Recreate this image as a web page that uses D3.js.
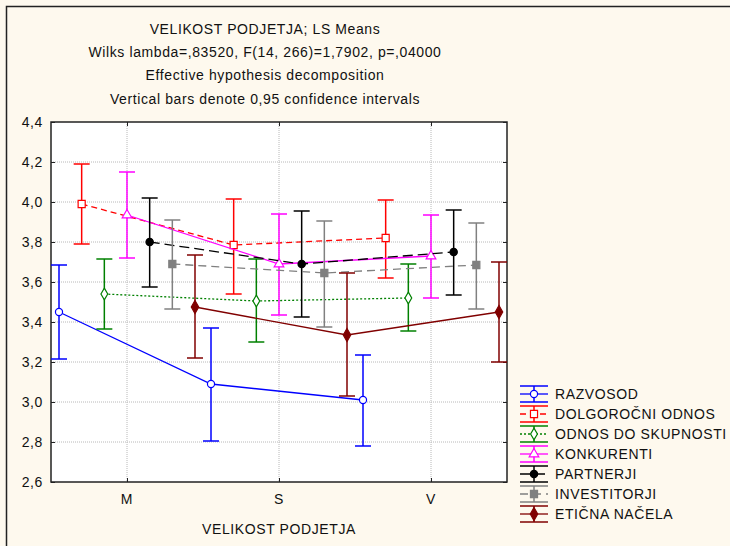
<!DOCTYPE html>
<html>
  <head>
    <meta charset="utf-8">
    <script src="https://d3js.org/d3.v7.min.js"></script>
    <style>
      body {
          margin: 0;
          background: #fef9ee;
          font-family: "Liberation Sans", Arial, sans-serif;
      }
      .title, .tick-label, .axis-title, .legend {
          font-size: 14px;
          letter-spacing: 0.6px;
          fill: #111;
      }
      .grid {
          stroke: #b8b8b8;
          stroke-width: 1;
          stroke-dasharray: 1,1;
      }
    </style>
  </head>
  <body>
    <svg width="730" height="546"></svg>
    <script>

    // ---- data ----
    var categories = ["M", "S", "V"];
    var seriesNames = ["RAZVOSOD", "DOLGOROČNI ODNOS", "ODNOS DO SKUPNOSTI", "KONKURENTI",
                       "PARTNERJI", "INVESTITORJI", "ETIČNA NAČELA"];
    var means = [
      [3.45, 3.09, 3.01],
      [3.99, 3.785, 3.82],
      [3.54, 3.505, 3.52],
      [3.935, 3.69, 3.73],
      [3.80, 3.69, 3.75],
      [3.69, 3.645, 3.685],
      [3.475, 3.335, 3.45]
    ];
    var lower = [
      [3.215, 2.805, 2.78],
      [3.79, 3.54, 3.62],
      [3.365, 3.30, 3.355],
      [3.72, 3.435, 3.52],
      [3.575, 3.425, 3.535],
      [3.465, 3.375, 3.465],
      [3.22, 3.03, 3.20]
    ];
    var upper = [
      [3.685, 3.37, 3.235],
      [4.19, 4.015, 4.01],
      [3.715, 3.715, 3.69],
      [4.15, 3.94, 3.935],
      [4.02, 3.955, 3.96],
      [3.91, 3.905, 3.895],
      [3.735, 3.645, 3.70]
    ];
    var yTicks = [2.6, 2.8, 3.0, 3.2, 3.4, 3.6, 3.8, 4.0, 4.2, 4.4];
    var titleLines = ["VELIKOST PODJETJA; LS Means",
                      "Wilks lambda=,83520, F(14, 266)=1,7902, p=,04000",
                      "Effective hypothesis decomposition",
                      "Vertical bars denote 0,95 confidence intervals"];

    // ---- styles ----
    var colors = ["#0000ff", "#ff0000", "#008000", "#ff00ff", "#000000", "#808080", "#800000"];
    var dashes = [null, "6,4", "2,2", null, "10,5", "8,5", null];
    var symbols = [d3.symbolCircle, d3.symbolSquare, d3.symbolDiamond, d3.symbolTriangle,
                   d3.symbolCircle, d3.symbolSquare, d3.symbolDiamond];
    var filled = [false, false, false, false, true, true, true];
    var symSize = [40, 50, 40, 40, 42, 50, 48];

    var svg = d3.select("svg"),
        plot = {left: 51, right: 507, top: 122, bottom: 482};

    var x = d3.scalePoint().domain(categories).range([plot.left, plot.right]).padding(0.5),
        off = d3.scalePoint().domain(seriesNames).range([-68, 68]),
        y = d3.scaleLinear().domain([2.6, 4.4]).range([plot.bottom, plot.top]);

    var fmt = function(v) { return d3.format(".1f")(v).replace(".", ","); };

    // outer frame
    svg.append("path")
       .attr("d", "M6.5,546V6.5H730")
       .attr("fill", "none")
       .attr("stroke", "#222")
       .attr("stroke-width", 1.5);

    // titles
    svg.selectAll(".title")
       .data(titleLines)
       .enter().append("text")
       .attr("class", "title")
       .attr("x", 265)
       .attr("y", function(d, i) { return 34 + i * 23.2; })
       .attr("text-anchor", "middle")
       .text(function(d) { return d; });

    // plot background
    svg.append("rect")
       .attr("x", plot.left).attr("y", plot.top)
       .attr("width", plot.right - plot.left).attr("height", plot.bottom - plot.top)
       .attr("fill", "#fff");

    // gridlines
    svg.selectAll(".hgrid")
       .data(yTicks.slice(1, -1))
       .enter().append("line")
       .attr("class", "grid")
       .attr("x1", plot.left).attr("x2", plot.right)
       .attr("y1", function(d) { return y(d); }).attr("y2", function(d) { return y(d); });

    svg.selectAll(".vgrid")
       .data(categories)
       .enter().append("line")
       .attr("class", "grid")
       .attr("y1", plot.top).attr("y2", plot.bottom)
       .attr("x1", function(d) { return x(d); }).attr("x2", function(d) { return x(d); });

    // axes (ticks pointing inside)
    svg.append("g")
       .attr("transform", "translate(" + plot.left + ",0)")
       .call(d3.axisRight(y).tickValues(yTicks).tickSize(4).tickFormat(""));
    svg.append("g")
       .attr("transform", "translate(" + plot.right + ",0)")
       .call(d3.axisLeft(y).tickValues(yTicks).tickSize(4).tickFormat(""));
    svg.append("g")
       .attr("transform", "translate(0," + plot.bottom + ")")
       .call(d3.axisTop(x).tickSize(4).tickFormat(""));
    svg.append("g")
       .attr("transform", "translate(0," + plot.top + ")")
       .call(d3.axisBottom(x).tickSize(4).tickFormat(""));
    svg.selectAll(".domain").remove();
    svg.selectAll(".tick line").attr("stroke", "#222");

    svg.append("rect")
       .attr("x", plot.left).attr("y", plot.top)
       .attr("width", plot.right - plot.left).attr("height", plot.bottom - plot.top)
       .attr("fill", "none")
       .attr("stroke", "#222")
       .attr("stroke-width", 1.5);

    // tick labels
    svg.selectAll(".ylab")
       .data(yTicks)
       .enter().append("text")
       .attr("class", "tick-label")
       .attr("x", 43)
       .attr("y", function(d) { return y(d); })
       .attr("dy", "0.35em")
       .attr("text-anchor", "end")
       .text(fmt);

    svg.selectAll(".xlab")
       .data(categories)
       .enter().append("text")
       .attr("class", "tick-label")
       .attr("x", function(d) { return x(d); })
       .attr("y", 504)
       .attr("text-anchor", "middle")
       .text(function(d) { return d; });

    svg.append("text")
       .attr("class", "axis-title")
       .attr("x", (plot.left + plot.right) / 2)
       .attr("y", 534)
       .attr("text-anchor", "middle")
       .text("VELIKOST PODJETJA");

    // series
    var line = d3.line()
                 .x(function(d) { return d.x; })
                 .y(function(d) { return y(d.m); });

    var series = seriesNames.map(function(name, s) {
      return {
        name: name, s: s,
        values: categories.map(function(c, j) {
          return {x: x(c) + off(name), m: means[s][j], lo: lower[s][j], hi: upper[s][j]};
        })
      };
    });

    var sg = svg.selectAll(".series")
                .data(series)
                .enter().append("g")
                .attr("class", "series");

    sg.append("path")
      .attr("d", function(d) { return line(d.values); })
      .attr("fill", "none")
      .attr("stroke", function(d) { return colors[d.s]; })
      .attr("stroke-width", 1.3)
      .attr("stroke-dasharray", function(d) { return dashes[d.s]; });

    sg.each(function(d) {
      var g = d3.select(this), c = colors[d.s];
      var bars = g.selectAll(".bar").data(d.values).enter().append("g");
      bars.append("line")
          .attr("x1", function(v) { return v.x; }).attr("x2", function(v) { return v.x; })
          .attr("y1", function(v) { return y(v.lo); }).attr("y2", function(v) { return y(v.hi); });
      bars.append("line")
          .attr("x1", function(v) { return v.x - 8; }).attr("x2", function(v) { return v.x + 8; })
          .attr("y1", function(v) { return y(v.hi); }).attr("y2", function(v) { return y(v.hi); });
      bars.append("line")
          .attr("x1", function(v) { return v.x - 8; }).attr("x2", function(v) { return v.x + 8; })
          .attr("y1", function(v) { return y(v.lo); }).attr("y2", function(v) { return y(v.lo); });
      bars.selectAll("line").attr("stroke", c).attr("stroke-width", 1.5);

      g.selectAll(".pt").data(d.values).enter().append("path")
       .attr("transform", function(v) { return "translate(" + v.x + "," + y(v.m) + ")"; })
       .attr("d", d3.symbol().type(symbols[d.s]).size(symSize[d.s]))
       .attr("fill", filled[d.s] ? c : "#fff")
       .attr("stroke", c)
       .attr("stroke-width", 1.2);
    });

    // legend
    var lg = svg.selectAll(".legend-item")
                .data(series)
                .enter().append("g")
                .attr("class", "legend-item")
                .attr("transform", function(d, i) { return "translate(520," + (394 + i * 20) + ")"; });

    lg.each(function(d) {
      var g = d3.select(this), c = colors[d.s];
      g.append("line").attr("x1", 0).attr("x2", 28).attr("y1", -8).attr("y2", -8);
      g.append("line").attr("x1", 0).attr("x2", 28).attr("y1", 8).attr("y2", 8);
      g.append("line").attr("x1", 14).attr("x2", 14).attr("y1", -8).attr("y2", 8);
      g.selectAll("line").attr("stroke", c).attr("stroke-width", 1.5);
      g.append("line").attr("x1", 0).attr("x2", 28).attr("y1", 0).attr("y2", 0)
       .attr("stroke", c).attr("stroke-width", 1.3)
       .attr("stroke-dasharray", dashes[d.s]);
      g.append("path")
       .attr("transform", "translate(14,0)")
       .attr("d", d3.symbol().type(symbols[d.s]).size(symSize[d.s]))
       .attr("fill", filled[d.s] ? c : "#fff")
       .attr("stroke", c)
       .attr("stroke-width", 1.2);
      g.append("text")
       .attr("class", "legend")
       .attr("x", 35)
       .attr("dy", "0.35em")
       .text(d.name);
    });

    </script>
  </body>
</html>
